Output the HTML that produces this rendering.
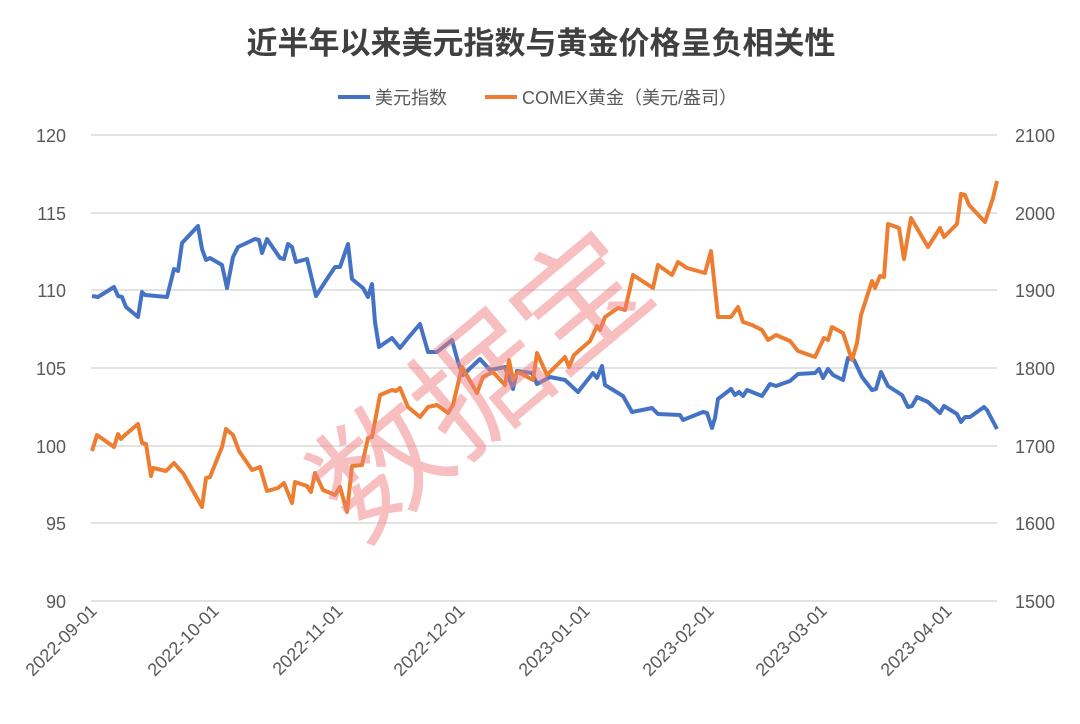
<!DOCTYPE html>
<html><head><meta charset="utf-8"><style>
body{margin:0;background:#fff;}
svg text{font-family:"Liberation Sans","Noto Sans CJK SC",sans-serif;}
</style></head><body>
<svg width="1080" height="719" viewBox="0 0 1080 719" xmlns="http://www.w3.org/2000/svg">
<rect width="1080" height="719" fill="#fff"/>
<text x="541" y="54" text-anchor="middle" font-size="31" font-weight="bold" fill="#404040">近半年以来美元指数与黄金价格呈负相关性</text>
<line x1="338" y1="97" x2="370" y2="97" stroke="#4472C4" stroke-width="4"/>
<text x="375" y="104" font-size="18" fill="#595959">美元指数</text>
<line x1="485" y1="97" x2="517" y2="97" stroke="#ED7D31" stroke-width="4"/>
<text x="522" y="104" font-size="18" fill="#595959">COMEX黄金（美元/盎司）</text>
<g stroke="#d9d9d9" stroke-width="1.5">
<line x1="91" y1="135" x2="997" y2="135"/><line x1="91" y1="213" x2="997" y2="213"/>
<line x1="91" y1="290" x2="997" y2="290"/><line x1="91" y1="368" x2="997" y2="368"/>
<line x1="91" y1="446" x2="997" y2="446"/><line x1="91" y1="523" x2="997" y2="523"/>
<line x1="91" y1="601" x2="997" y2="601"/>
</g>
<g font-size="18" fill="#595959" text-anchor="end">
<text x="66" y="142">120</text><text x="66" y="220">115</text><text x="66" y="297">110</text>
<text x="66" y="375">105</text><text x="66" y="453">100</text><text x="66" y="530">95</text><text x="66" y="608">90</text>
</g>
<g font-size="18" fill="#595959" text-anchor="start">
<text x="1015" y="142">2100</text><text x="1015" y="220">2000</text><text x="1015" y="297">1900</text>
<text x="1015" y="375">1800</text><text x="1015" y="453">1700</text><text x="1015" y="530">1600</text><text x="1015" y="608">1500</text>
</g>
<g font-size="18" fill="#595959" text-anchor="end">
<text transform="translate(98,612) rotate(-45)">2022-09-01</text>
<text transform="translate(220,612) rotate(-45)">2022-10-01</text>
<text transform="translate(344,612) rotate(-45)">2022-11-01</text>
<text transform="translate(466,612) rotate(-45)">2022-12-01</text>
<text transform="translate(591,612) rotate(-45)">2023-01-01</text>
<text transform="translate(715,612) rotate(-45)">2023-02-01</text>
<text transform="translate(828,612) rotate(-45)">2023-03-01</text>
<text transform="translate(953,612) rotate(-45)">2023-04-01</text>
</g>
<polyline fill="none" stroke="#4472C4" stroke-width="4" stroke-linejoin="round" points="92,296 98,297 114,287 118,296 122,297 126,307 138,317 142,292 145,295 167,297 174,269 178,271 182,243 198,226 202,249 206,260 210,258 222,265 227,288 233,257 238,247 255,239 259,240 262,253 267,239 280,258 284,259 288,244 292,247 296,262 307,259 316,296 325,282 335,267 340,267 348,244 352,279 363,288 368,297 372,284 375,322 379,347 392,338 400,348 408,338 420,324 428,352 437,352 452,340 458,362 463,375 480,359 490,370 505,367 513,389 517,371 532,373 537,384 550,377 565,380 578,392 593,373 597,378 602,366 605,385 623,396 632,412 652,408 658,414 680,415 683,420 703,412 707,413 712,428 715,418 718,399 731,389 735,395 739,392 743,396 747,390 762,396 770,384 776,386 790,381 798,374 815,373 819,369 823,378 828,369 833,375 843,380 848,358 854,360 862,377 872,390 876,389 881,372 888,386 902,395 908,407 912,406 917,397 928,402 940,413 944,406 957,414 961,422 965,417 970,417 984,407 987,410 997,429"/>
<polyline fill="none" stroke="#ED7D31" stroke-width="4" stroke-linejoin="round" points="92,451 97,435 114,447 118,434 121,439 125,435 138,424 142,443 146,444 151,476 153,468 166,471 174,463 180,470 183,473 202,507 206,478 210,477 222,447 226,429 233,435 239,451 252,470 260,467 267,491 278,488 284,483 292,503 295,482 307,486 311,492 315,473 323,490 335,495 340,487 347,512 352,466 362,465 368,438 372,437 380,395 392,390 396,391 400,388 408,407 420,417 428,407 437,405 448,413 453,405 462,367 477,393 483,377 493,372 505,385 509,360 513,380 518,372 533,380 537,353 547,375 565,357 569,367 574,355 590,341 597,326 600,330 605,317 618,308 625,310 633,275 653,288 658,265 672,275 678,262 687,268 705,273 711,251 718,317 731,317 738,307 743,322 752,325 762,330 768,340 776,335 790,341 798,351 815,357 824,338 828,340 832,327 843,333 852,360 857,343 861,315 872,281 875,288 880,276 884,277 888,224 899,228 904,259 911,218 928,247 940,228 944,237 957,224 961,194 965,195 969,205 985,222 993,198 997,181"/>
<text transform="translate(510,420) rotate(-40)" text-anchor="middle" font-size="130" fill="#f08080" fill-opacity="0.5" font-family="'Liberation Sans','Noto Sans CJK SC',sans-serif">数据宝</text>
</svg>
</body></html>
